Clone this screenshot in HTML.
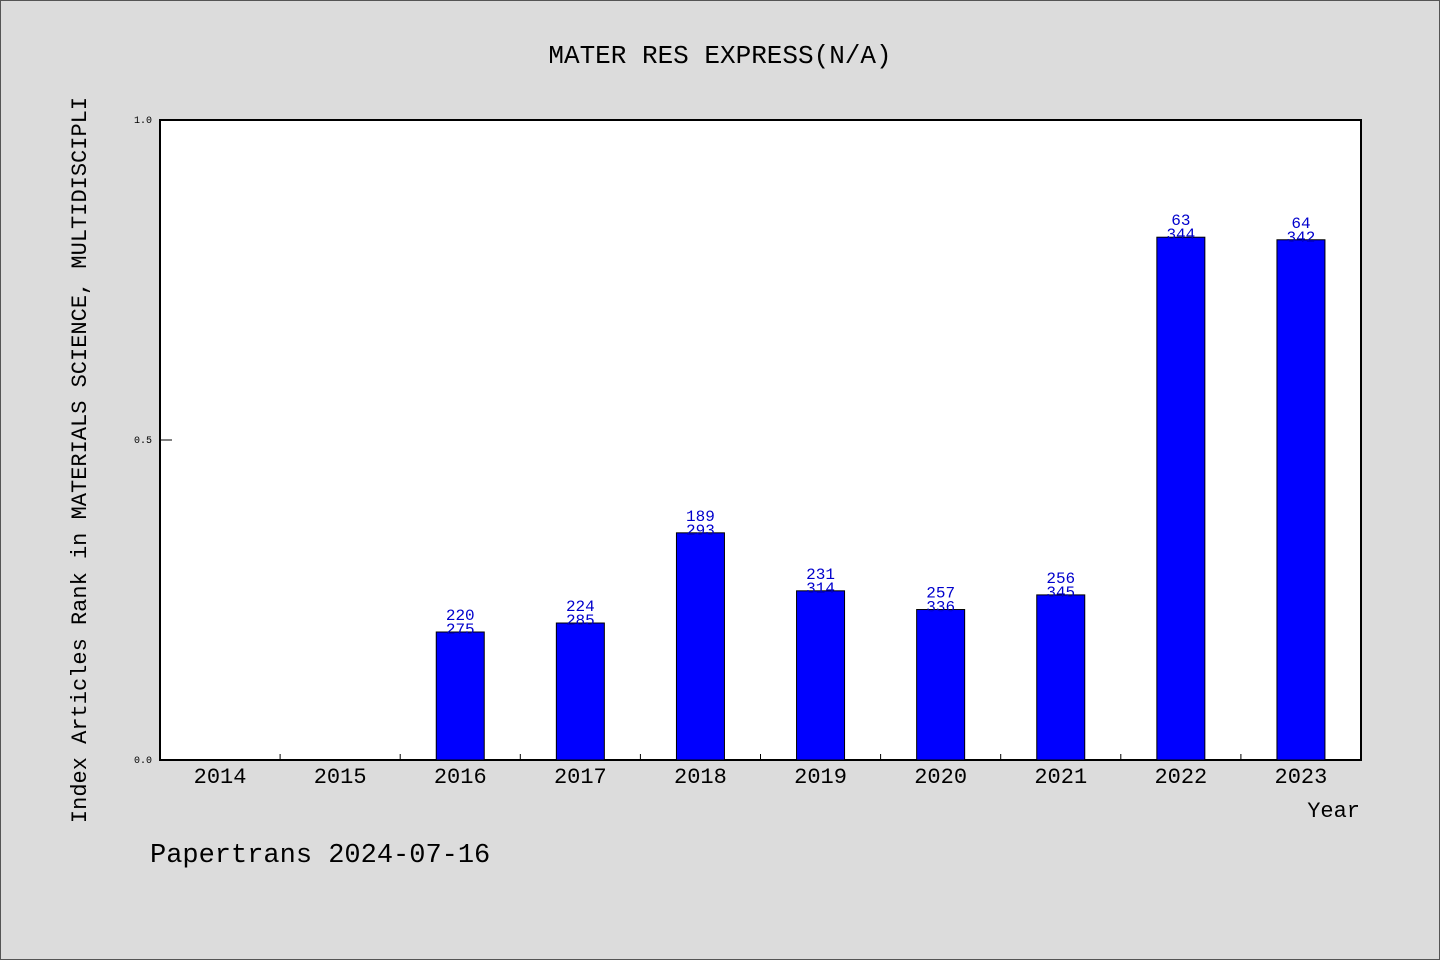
<!DOCTYPE html>
<html><head><meta charset="utf-8"><style>
html,body{margin:0;padding:0;background:#dcdcdc;}
svg{display:block;font-family:"Liberation Mono","WenQuanYi Zen Hei",monospace;}
</style></head><body>
<svg id="chart" width="1440" height="960" xmlns="http://www.w3.org/2000/svg">
<rect x="0.5" y="0.5" width="1439" height="959" fill="#dcdcdc" stroke="#555"/>
<text x="720" y="63" text-anchor="middle" font-size="26" fill="#000">MATER RES EXPRESS(N/A)</text>
<rect x="160" y="120" width="1201" height="640" fill="#fff" stroke="#000" stroke-width="2"/>
<text transform="translate(86,460) rotate(-90)" text-anchor="middle" font-size="22" fill="#000">Index Articles Rank in MATERIALS SCIENCE, MULTIDISCIPLI</text>
<text x="1360" y="817" text-anchor="end" font-size="22" fill="#000">Year</text>
<text x="150" y="862" font-size="27" fill="#000">Papertrans 2024-07-16</text>
<g id="g"></g>
</svg>
<script>
const years = ["2014","2015","2016","2017","2018","2019","2020","2021","2022","2023"];
const ranks = [null,null,220,224,189,231,257,256,63,64];
const totals = [null,null,275,285,293,314,336,345,344,342];
const yTicks = [0,0.5,1];
const yTickLabels = ["0.0","0.5","1.0"];
const NS="http://www.w3.org/2000/svg";
const g=document.getElementById('g');
const x0=160,x1=1361,y0=760,y1=120;
const band=(x1-x0)/years.length;
const xc=i=>x0+band*(i+0.5);
const ys=v=>y0-(y0-y1)*v;
function mk(t,a){const e=document.createElementNS(NS,t);for(const k in a)e.setAttribute(k,a[k]);g.appendChild(e);return e;}
yTicks.forEach((v,i)=>{
  const l=mk('line',{x1:x0,x2:x0+12,y1:ys(v),y2:ys(v),stroke:'#000'});
  
  
  const t=mk('text',{x:152,y:ys(v)+3,'text-anchor':'end','font-size':10,fill:'#000'});
  t.textContent=yTickLabels[i];
  
  
});
years.forEach((yr,i)=>{
  if(i>0){const l=mk('line',{x1:x0+band*i,x2:x0+band*i,y1:y0,y2:y0-6,stroke:'#000'});
  
  }
  const t=mk('text',{x:xc(i),y:783,'text-anchor':'middle','font-size':22,fill:'#000'});
  t.textContent=yr;
  
  
  if(ranks[i]==null)return;
  const v=1-ranks[i]/totals[i];
  const top=ys(v);
  const r=mk('rect',{x:xc(i)-24,y:top,width:48,height:y0-top,fill:'#0000ff',stroke:'#000','stroke-width':1});
  
  
  const a=mk('text',{x:xc(i),y:top-12,'text-anchor':'middle','font-size':16,fill:'#0000cc'});
  a.textContent=ranks[i];
  
  
  const b=mk('text',{x:xc(i),y:top+2,'text-anchor':'middle','font-size':16,fill:'#0000cc'});
  b.textContent=totals[i];
  
  
});
</script>
</body></html>
